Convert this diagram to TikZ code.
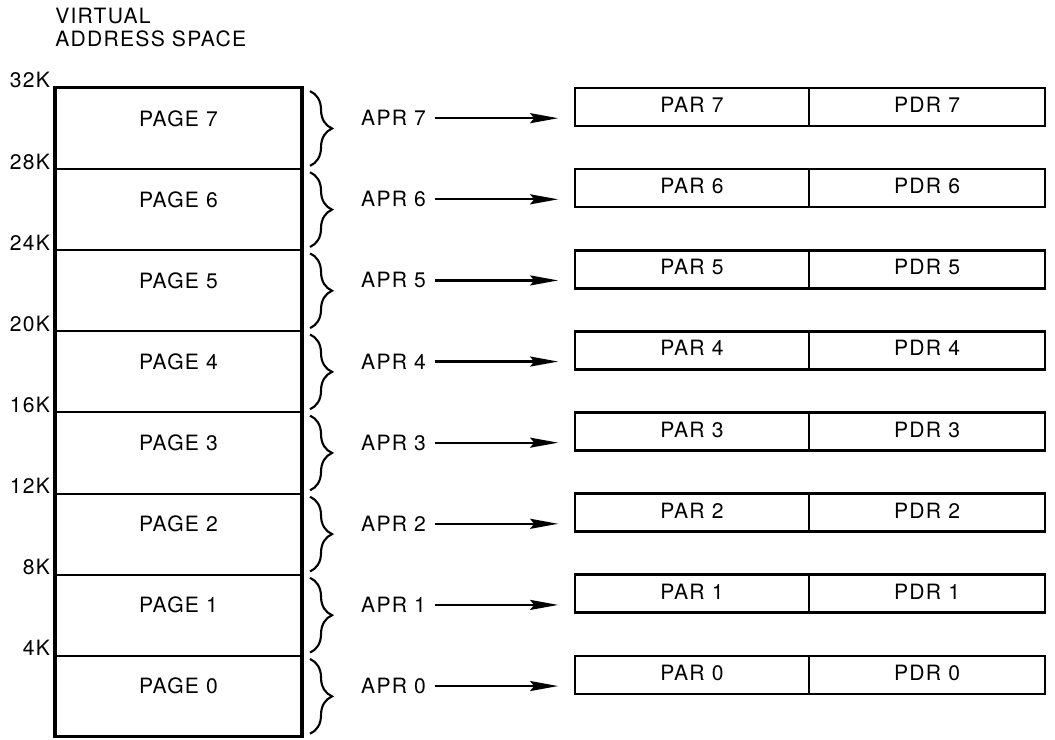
\documentclass[tikz,border=0pt]{standalone}
\usepackage{fontspec}
\setmainfont{TeX Gyre Heros}[LetterSpace=6]
\usetikzlibrary{positioning,decorations.pathreplacing,arrows.meta}

\tikzset{
  pagebox/.style={draw, line width=1.4pt, minimum width=6.175cm, minimum height=2.0275cm, outer sep=0pt, text height=0.38cm, text depth=0.5cm},
  regbox/.style={draw, line width=1.9pt, minimum height=0.95cm, inner sep=0pt, outer sep=0pt, text height=0.38cm, text depth=0.1cm},
  parbox/.style={regbox, minimum width=5.85cm},
  pdrbox/.style={regbox, minimum width=5.9cm},
  kmark/.style={anchor=base east, inner sep=0pt, xshift=-0.12cm},
  pagebrace/.style={decorate, decoration={brace, amplitude=0.55cm}, line width=1.5pt},
  aprlink/.style={-{Stealth[length=0.7cm, width=0.25cm, inset=0.1cm]}, line width=1.6pt, shorten <=0.1cm, shorten >=0.42cm}
}

\begin{document}
\begin{tikzpicture}[x=0.025cm, y=-0.025cm, node distance=1.0775cm, font=\fontsize{15}{16.3}\selectfont]
\useasboundingbox (0,0) rectangle (1055,740);

\node (title) [anchor=north west, align=left, inner sep=0pt] at (55,8) {VIRTUAL\\ADDRESS SPACE};

% virtual address space
\node (page7) [pagebox] at (178.5,128.5) {PAGE 7};
\node (page6) [pagebox, below=0cm of page7] {PAGE 6};
\node (page5) [pagebox, below=0cm of page6] {PAGE 5};
\node (page4) [pagebox, below=0cm of page5] {PAGE 4};
\node (page3) [pagebox, below=0cm of page4] {PAGE 3};
\node (page2) [pagebox, below=0cm of page3] {PAGE 2};
\node (page1) [pagebox, below=0cm of page2] {PAGE 1};
\node (page0) [pagebox, below=0cm of page1] {PAGE 0};
\draw[line width=2.2pt] (page7.north west) rectangle (page0.south east);

\node (k32) [kmark] at (page7.north west) {32K};
\node (k28) [kmark] at (page6.north west) {28K};
\node (k24) [kmark] at (page5.north west) {24K};
\node (k20) [kmark] at (page4.north west) {20K};
\node (k16) [kmark] at (page3.north west) {16K};
\node (k12) [kmark] at (page2.north west) {12K};
\node (k8) [kmark] at (page1.north west) {8K};
\node (k4) [kmark] at (page0.north west) {4K};

% active page registers
\node (par7) [parbox] at (692,107) {PAR 7};
\node (par6) [parbox, below=of par7] {PAR 6};
\node (par5) [parbox, below=of par6] {PAR 5};
\node (par4) [parbox, below=of par5] {PAR 4};
\node (par3) [parbox, below=of par4] {PAR 3};
\node (par2) [parbox, below=of par3] {PAR 2};
\node (par1) [parbox, below=of par2] {PAR 1};
\node (par0) [parbox, below=of par1] {PAR 0};
\node (pdr7) [pdrbox, right=0cm of par7] {PDR 7};
\node (pdr6) [pdrbox, right=0cm of par6] {PDR 6};
\node (pdr5) [pdrbox, right=0cm of par5] {PDR 5};
\node (pdr4) [pdrbox, right=0cm of par4] {PDR 4};
\node (pdr3) [pdrbox, right=0cm of par3] {PDR 3};
\node (pdr2) [pdrbox, right=0cm of par2] {PDR 2};
\node (pdr1) [pdrbox, right=0cm of par1] {PDR 1};
\node (pdr0) [pdrbox, right=0cm of par0] {PDR 0};

\node (apr7) [left=3.6cm of par7.west, yshift=-0.28cm] {APR 7};
\node (apr6) [left=3.6cm of par6.west, yshift=-0.28cm] {APR 6};
\node (apr5) [left=3.6cm of par5.west, yshift=-0.28cm] {APR 5};
\node (apr4) [left=3.6cm of par4.west, yshift=-0.28cm] {APR 4};
\node (apr3) [left=3.6cm of par3.west, yshift=-0.28cm] {APR 3};
\node (apr2) [left=3.6cm of par2.west, yshift=-0.28cm] {APR 2};
\node (apr1) [left=3.6cm of par1.west, yshift=-0.28cm] {APR 1};
\node (apr0) [left=3.6cm of par0.west, yshift=-0.28cm] {APR 0};

\draw[pagebrace] ([xshift=0.2cm, yshift=-0.08cm]page7.north east) -- ([xshift=0.2cm, yshift=0.08cm]page7.south east);
\draw[pagebrace] ([xshift=0.2cm, yshift=-0.08cm]page6.north east) -- ([xshift=0.2cm, yshift=0.08cm]page6.south east);
\draw[pagebrace] ([xshift=0.2cm, yshift=-0.08cm]page5.north east) -- ([xshift=0.2cm, yshift=0.08cm]page5.south east);
\draw[pagebrace] ([xshift=0.2cm, yshift=-0.08cm]page4.north east) -- ([xshift=0.2cm, yshift=0.08cm]page4.south east);
\draw[pagebrace] ([xshift=0.2cm, yshift=-0.08cm]page3.north east) -- ([xshift=0.2cm, yshift=0.08cm]page3.south east);
\draw[pagebrace] ([xshift=0.2cm, yshift=-0.08cm]page2.north east) -- ([xshift=0.2cm, yshift=0.08cm]page2.south east);
\draw[pagebrace] ([xshift=0.2cm, yshift=-0.08cm]page1.north east) -- ([xshift=0.2cm, yshift=0.08cm]page1.south east);
\draw[pagebrace] ([xshift=0.2cm, yshift=-0.08cm]page0.north east) -- ([xshift=0.2cm, yshift=0.08cm]page0.south east);

\draw[aprlink] (apr7) -- (apr7 -| par7.west);
\draw[aprlink] (apr6) -- (apr6 -| par6.west);
\draw[aprlink] (apr5) -- (apr5 -| par5.west);
\draw[aprlink] (apr4) -- (apr4 -| par4.west);
\draw[aprlink] (apr3) -- (apr3 -| par3.west);
\draw[aprlink] (apr2) -- (apr2 -| par2.west);
\draw[aprlink] (apr1) -- (apr1 -| par1.west);
\draw[aprlink] (apr0) -- (apr0 -| par0.west);
\end{tikzpicture}
\end{document}
